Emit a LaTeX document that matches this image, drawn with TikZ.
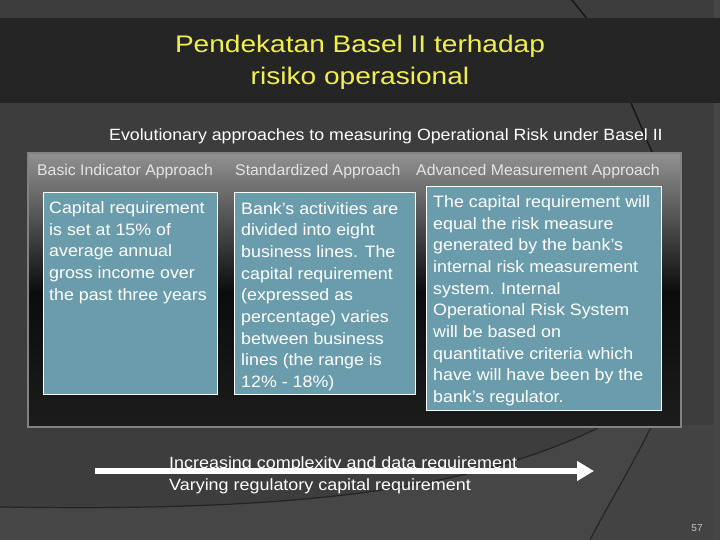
\documentclass[tikz,border=0pt]{standalone}
\usepackage{fontspec}
\setmainfont{Liberation Sans}
\usetikzlibrary{arrows.meta}
\definecolor{bgc}{RGB}{61,61,61}
\definecolor{bgl}{RGB}{70,70,70}
\definecolor{bgr}{RGB}{67,67,67}
\definecolor{bandc}{RGB}{37,37,37}
\definecolor{titlec}{RGB}{240,240,75}
\definecolor{boxc}{RGB}{106,156,172}
\definecolor{paneltop}{RGB}{145,145,145}
\definecolor{panelmid}{RGB}{12,12,12}
\definecolor{panelbot}{RGB}{28,28,28}
\definecolor{panelborder}{RGB}{130,130,130}
\definecolor{hdrc}{RGB}{228,228,228}
\tikzset{
  boxrect/.style={draw=white, line width=1pt, fill=boxc, anchor=north west, inner sep=0pt},
  boxtext/.style={text=white, anchor=base west, inner sep=0pt, xscale=1.08,
    font=\fontsize{16.5}{21.7}\selectfont, align=left},
  hdr/.style={text=hdrc, font=\fontsize{15.5}{18}\selectfont, inner sep=0pt, anchor=base west, xscale=1.02},
  plain/.style={text=white, inner sep=0pt, anchor=base west, xscale=1.1, font=\fontsize{16.3}{21.7}\selectfont, align=left},
  curve/.style={black, line width=1.2pt, opacity=0.45},
}
\begin{document}
\begin{tikzpicture}[x=1pt,y=-1pt]
\useasboundingbox (0,0) rectangle (720,540);
% background
\fill[bgc] (0,0) rectangle (720,540);
\fill[bgl] (0,507) .. controls (300,512) and (470,490) .. (598,428) -- (720,428) -- (720,540) -- (0,540) -- cycle;
\fill[bgr] (652,425) .. controls (630,470) and (605,510) .. (590,540) -- (720,540) -- (720,425) -- cycle;
\draw[curve] (0,507) .. controls (300,512) and (470,490) .. (598,428);
\draw[curve] (652,425) .. controls (630,470) and (605,510) .. (590,540);
\draw[black, line width=1.5pt, opacity=0.6] (572,0) -- (588,20);
\draw[black, line width=1.5pt, opacity=0.6] (631,103) -- (652,152);
\fill[bgl] (714,0) rectangle (720,540);
% title band
\fill[bandc] (0,18) rectangle (720,103);
% (multi-line node: base anchor = baseline of the last line)
\node[text=titlec, font=\fontsize{24}{32.7}\selectfont, align=center, inner sep=0pt, anchor=base, xscale=1.17] (title) at (360,85)
  {Pendekatan Basel II terhadap\\risiko operasional};
% subtitle
\node[plain, xscale=0.99] (sub) at (109,140.7)
  {Evolutionary approaches to measuring Operational Risk under Basel II};
% panel
\shade[top color=paneltop, bottom color=panelmid] (28,153) rectangle (681,292);
\shade[top color=panelmid, bottom color=panelbot] (28,292) rectangle (681,427);
\draw[panelborder, line width=2pt] (28,153) rectangle (681,427);
\node[hdr] (h1) at (37,175.7) {Basic Indicator Approach};
\node[hdr] (h2) at (235,175.7) {Standardized Approach};
\node[hdr] (h3) at (416,175.7) {Advanced Measurement Approach};
% boxes
\node[boxrect, minimum width=174pt, minimum height=202pt] (b1) at (43,192) {};
\node[boxrect, minimum width=181pt, minimum height=202pt] (b2) at (234,192) {};
\node[boxrect, minimum width=235pt, minimum height=224pt] (b3) at (426,186) {};
\node[boxtext] (b1t) at ([xshift=6pt, yshift=-108.1pt]b1.north west)
  {Capital requirement\\is set at 15\% of\\average annual\\gross income over\\the past three years};
\node[boxtext] (b2t) at ([xshift=7pt, yshift=-195.6pt]b2.north west)
  {Bank’s activities are\\divided into eight\\business lines. The\\capital requirement\\(expressed as\\percentage) varies\\between business\\lines (the range is\\12\% - 18\%)};
\node[boxtext] (b3t) at ([xshift=7pt, yshift=-216.6pt]b3.north west)
  {The capital requirement will\\equal the risk measure\\generated by the bank’s\\internal risk measurement\\system. Internal\\Operational Risk System\\will be based on\\quantitative criteria which\\have will have been by the\\bank’s regulator.};
% arrow and its texts
\node[plain] (t1) at (169,468.3) {Increasing complexity and data requirement};
\node[plain] (t2) at (169,490) {Varying regulatory capital requirement};
\coordinate (a1) at (95,471);
\coordinate (a2) at (594,471);
\draw[white, line width=6.7pt, -{Triangle[length=17pt, width=19pt]}] (a1) -- (a2);
\node[text=black!22, font=\fontsize{10}{12}\selectfont, inner sep=0pt] (pg) at (697,528) {57};
\end{tikzpicture}
\end{document}
